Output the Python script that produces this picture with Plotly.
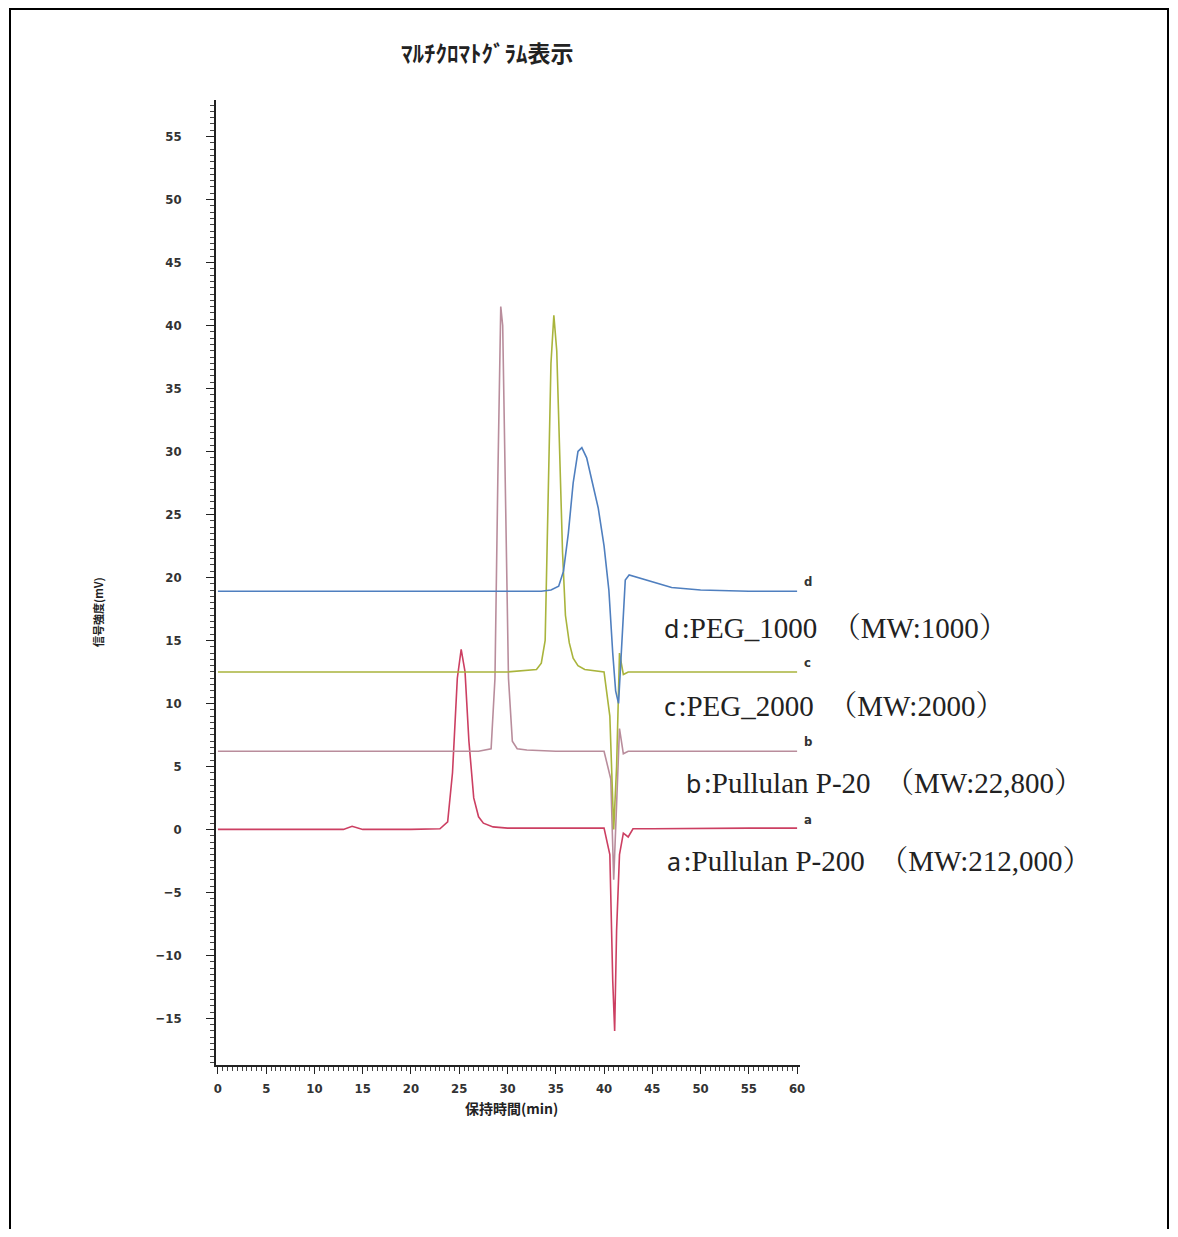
import plotly.graph_objects as go

# ---- data ----
a_x = [0, 5, 10, 13, 13.9, 15, 20, 23, 23.8, 24.3, 24.8, 25.2, 25.6, 26.0, 26.5, 27.0, 27.5, 28.5, 30, 35, 40, 40.6, 40.9, 41.1, 41.3, 41.6, 42.0, 42.5, 43, 45, 50, 55, 60]
a_y = [0, 0, 0, 0, 0.25, 0, 0, 0.05, 0.6, 4.5, 12, 14.3, 12.5, 7, 2.5, 1, 0.5, 0.2, 0.1, 0.1, 0.1, -2, -12, -16, -8, -2, -0.3, -0.6, 0.05, 0.05, 0.1, 0.1, 0.1]

b_x = [0, 10, 20, 27, 28.3, 28.7, 29.0, 29.3, 29.5, 29.8, 30.1, 30.5, 31, 32, 35, 40, 40.7, 41.0, 41.3, 41.6, 42, 42.5, 45, 50, 55, 60]
b_y = [6.2, 6.2, 6.2, 6.2, 6.4, 12, 28, 41.5, 40, 25, 12, 7, 6.4, 6.3, 6.2, 6.2, 4, -4, 2, 8, 6, 6.2, 6.2, 6.2, 6.2, 6.2]

c_x = [0, 10, 20, 30, 33.0, 33.5, 33.9, 34.2, 34.5, 34.8, 35.1, 35.4, 35.7, 36.0, 36.4, 36.8, 37.3, 38, 39, 40, 40.6, 41.0, 41.3, 41.6, 42, 42.5, 45, 50, 55, 60]
c_y = [12.5, 12.5, 12.5, 12.5, 12.7, 13.2, 15, 25, 37, 40.8, 38, 30, 22, 17, 14.8, 13.6, 13, 12.7, 12.6, 12.5, 9, 0, 5, 14, 12.3, 12.5, 12.5, 12.5, 12.5, 12.5]

d_x = [0, 10, 20, 30, 33.5, 34.5, 35.3, 35.8, 36.3, 36.8, 37.3, 37.7, 38.2, 38.8, 39.4, 40.0, 40.5, 40.9, 41.2, 41.5, 41.8, 42.2, 42.6, 43.5, 45, 47, 50, 55, 60]
d_y = [18.9, 18.9, 18.9, 18.9, 18.9, 19.0, 19.3, 20.5, 23.5, 27.5, 30.0, 30.3, 29.5, 27.5, 25.5, 22.5, 19, 14, 11, 10, 14, 19.8, 20.2, 20.0, 19.7, 19.2, 19.0, 18.9, 18.9]

series_names = ["a", "b", "c", "d"]
series_x = [a_x, b_x, c_x, d_x]
series_y = [a_y, b_y, c_y, d_y]
series_colors = ["#cc3f62", "#b98d9c", "#a9b43c", "#4f7fbf"]
series_levels = [0.0, 6.2, 12.5, 18.9]

legend_letters = ["a", "b", "c", "d"]
legend_names = ["Pullulan P-200", "Pullulan P-20", "PEG_2000", "PEG_1000"]
legend_mw = ["（MW:212,000）", "（MW:22,800）", "（MW:2000）", "（MW:1000）"]

title_text = "ﾏﾙﾁｸﾛﾏﾄｸﾞﾗﾑ表示"
x_title = "保持時間(min)"
y_title = "信号強度(mV)"

# page offset (body margin of the html page)
OFF = 8
W, H = 1178 - 2 * OFF, 1237 - 2 * OFF
L, T = 216 - OFF, 100 - OFF
PW, PH = 584, 965
R, B = W - L - PW, H - T - PH


def px(xpix):
    return (xpix - 216) / PW


def py(ypix):
    return (1065 - ypix) / PH


fig = go.Figure()
for name, xs, ys, col in zip(series_names, series_x, series_y, series_colors):
    fig.add_trace(go.Scatter(x=xs, y=ys, mode="lines", name=name,
                             line=dict(color=col, width=1.6), showlegend=False))

# small series letters at right end
for name, lvl in zip(series_names, series_levels):
    fig.add_annotation(x=px(802), y=lvl, xref="paper", yref="y", text="<b>%s</b>" % name,
                       showarrow=False, xanchor="left", yanchor="bottom",
                       font=dict(size=13, color="#333", family="DejaVu Sans Condensed"))

# description labels
legend_pos = [(665, 861), (684, 783), (662, 706), (662, 628)]
for let, nm, mw, (lx, ly) in zip(legend_letters, legend_names, legend_mw, legend_pos):
    txt = ('<span style="font-family:\'Noto Sans\';font-size:25px">%s</span>\u200a:%s\u00a0\u00a0%s'
           % (let, nm, mw))
    fig.add_annotation(x=px(lx), y=py(ly), xref="paper", yref="paper", text=txt,
                       showarrow=False, xanchor="left", yanchor="middle",
                       font=dict(size=29, color="#222", family="Liberation Serif, Noto Serif CJK JP, Noto Sans CJK JP"))

fig.add_annotation(x=px(487), y=py(52), xref="paper", yref="paper", text=title_text,
                   showarrow=False, xanchor="center", yanchor="middle",
                   font=dict(size=23, color="#222", family="Noto Sans CJK JP", weight="bold"))
fig.add_annotation(x=px(511), y=py(1108), xref="paper", yref="paper", text=x_title,
                   showarrow=False, xanchor="center", yanchor="middle",
                   font=dict(size=14, color="#222", family="Noto Sans CJK JP", weight="bold"))
fig.add_annotation(x=px(98), y=py(612), xref="paper", yref="paper", text=y_title,
                   showarrow=False, textangle=-90, xanchor="center", yanchor="middle",
                   font=dict(size=11, color="#222", family="Noto Sans CJK JP", weight="bold"))

# outer frame
fig.add_shape(type="rect", xref="paper", yref="paper", x0=px(10), x1=px(1168), y0=py(1300), y1=py(9),
              line=dict(color="black", width=2), layer="below")

tickfont = dict(size=13, color="#333", family="DejaVu Sans Condensed", weight="bold")
fig.update_xaxes(range=[-0.2, 60.3], showgrid=False, zeroline=False, showline=True,
                 linecolor="#222", linewidth=1.5, ticks="outside", ticklen=7, tickcolor="#222",
                 tick0=0, dtick=5, tickfont=tickfont, ticklabelstandoff=4,
                 minor=dict(dtick=0.5, ticklen=4, tickcolor="#444", ticks="outside"))
fig.update_yaxes(range=[-18.7, 57.9], showgrid=False, zeroline=False, showline=True,
                 linecolor="#222", linewidth=1.5, ticks="outside", ticklen=8, tickcolor="#222",
                 tick0=0, dtick=5, tickfont=tickfont, ticklabelstandoff=22,
                 minor=dict(dtick=0.5, ticklen=4, tickcolor="#444", ticks="outside"))

fig.update_layout(width=W, height=H, autosize=False,
                  margin=dict(l=L, r=R, t=T, b=B),
                  plot_bgcolor="white", paper_bgcolor="white")

fig.write_html("out.html")
